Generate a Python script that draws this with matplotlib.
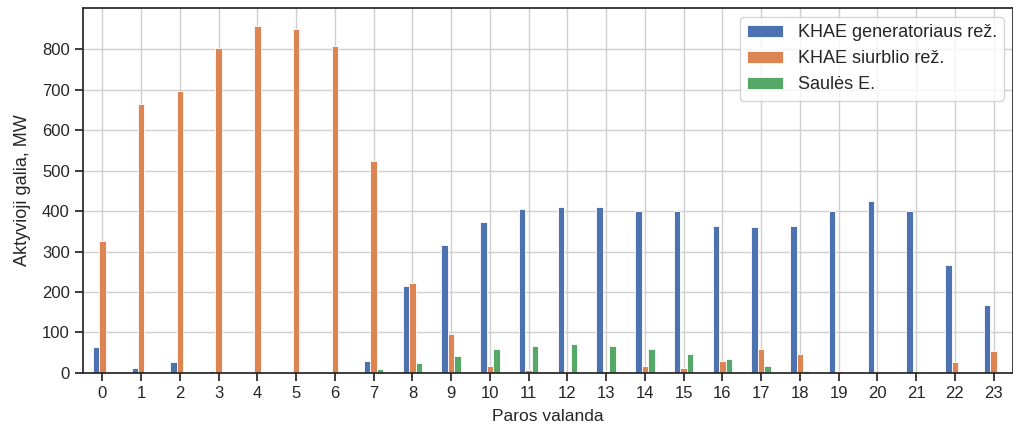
import matplotlib
import numpy as np
import pandas as pd
import seaborn as sns

matplotlib.use("Agg")
import matplotlib.pyplot as plt

hours = list(range(24))
generatorius = [63, 13, 26, 5, 0, 0, 0, 30, 214, 317, 372, 405, 409, 409, 401, 401,
                364, 360, 364, 401, 426, 401, 267, 167]
siurblys = [326, 664, 697, 804, 859, 851, 808, 525, 221, 96, 17, 8, 0, 5, 17, 13,
            29, 59, 46, 5, 0, 0, 26, 54]
saules = [0, 0, 0, 0, 0, 0, 0, 10, 25, 41, 58, 66, 71, 66, 58, 46,
          33, 17, 4, 0, 0, 0, 0, 0]
labels = ["KHAE generatoriaus rež.", "KHAE siurblio rež.", "Saulės E."]

sns.set_theme(style="ticks", rc={"axes.grid": True})
plt.rcParams["font.family"] = ["Liberation Sans", "DejaVu Sans"]

df = pd.DataFrame({labels[0]: generatorius, labels[1]: siurblys, labels[2]: saules},
                  index=hours)

fig = plt.figure(figsize=(10.13, 4.30), dpi=100)
ax = fig.add_axes([0.082, 0.133, 0.918, 0.848])
df.plot.bar(ax=ax, rot=0, color=sns.color_palette("deep", 3), edgecolor="white", linewidth=0.6)

ax.set_xlabel("Paros valanda", fontsize=12.5, labelpad=6)
ax.set_ylabel("Aktyvioji galia, MW", fontsize=13, labelpad=8)
ax.tick_params(labelsize=12)
ax.set_yticks(np.arange(0, 900, 100))
ax.grid(True, color="#d0d0d0", linewidth=1)
ax.set_axisbelow(True)
ax.legend(loc="upper right", fontsize=13, frameon=True)

fig.savefig("out.png", dpi=100)
